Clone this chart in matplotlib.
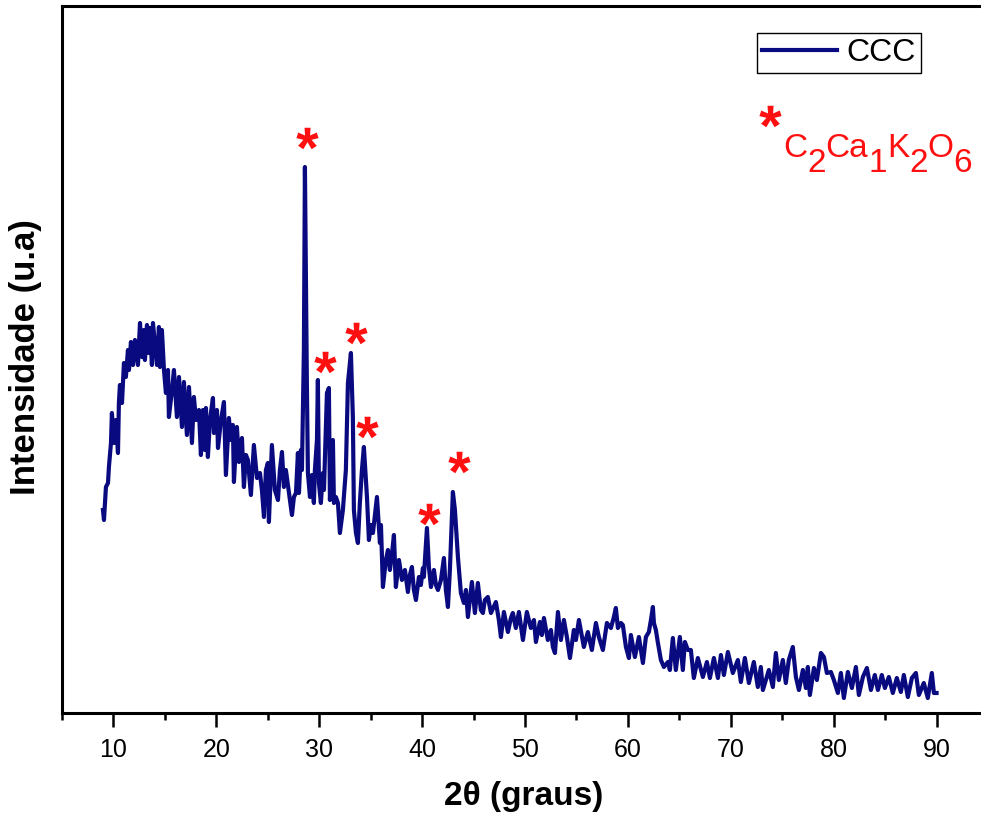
import numpy as np
import matplotlib
matplotlib.use("Agg")
import matplotlib.pyplot as plt
from matplotlib.textpath import TextPath
from matplotlib.font_manager import FontProperties
from matplotlib.path import Path

plt.rcParams['font.family'] = ['Liberation Sans', 'DejaVu Sans']

# ---------------- data (2theta in degrees, intensity in a.u.) ----------------
two_theta = [
    8.98, 9.08, 9.27, 9.47, 9.56, 9.76, 9.85, 10.05, 10.24, 10.44, 10.53, 10.63, 10.83,
    11.02, 11.21, 11.41, 11.51, 11.70, 11.90, 12.09, 12.38, 12.58, 12.77, 12.96, 13.06,
    13.26, 13.35, 13.55, 13.74, 13.84, 14.03, 14.23, 14.42, 14.52, 14.71, 14.91, 15.10,
    15.30, 15.39, 15.69, 15.88, 16.17, 16.37, 16.66, 16.85, 17.14, 17.34, 17.63, 17.82,
    18.02, 18.31, 18.50, 18.70, 18.89,
    18.99, 19.18, 19.38, 19.67, 19.77, 20.06, 20.16, 20.45, 20.74, 20.93, 21.22, 21.42,
    21.61, 21.71, 22.00, 22.20, 22.49, 22.68, 22.88, 23.07, 23.36, 23.65, 23.95, 24.24,
    24.43, 24.63, 24.82, 25.01, 25.11, 25.40, 25.69, 25.99, 26.18, 26.38, 26.57, 26.76,
    26.96, 27.35, 27.54, 27.74, 27.93,
    28.03, 28.22, 28.32, 28.51, 28.61, 28.80, 28.90, 29.10, 29.29, 29.48, 29.58, 29.78,
    29.87, 29.97, 30.16, 30.36, 30.46, 30.75, 30.94, 31.04, 31.33, 31.43, 31.62, 31.82,
    32.01, 32.30, 32.59, 32.79, 33.08, 33.27, 33.37, 33.57, 33.76, 33.95, 34.15, 34.34,
    34.64, 34.83, 35.02, 35.22, 35.61, 35.90,
    36.00, 36.19, 36.48, 36.68, 36.87, 37.06, 37.26, 37.45, 37.75, 38.04, 38.33, 38.62,
    38.81, 39.01, 39.20, 39.40, 39.69, 39.88, 40.08, 40.17, 40.47, 40.66, 40.86, 41.15,
    41.34, 41.54, 41.83, 42.12, 42.31, 42.51, 42.70, 42.90, 42.99, 43.19, 43.38, 43.48,
    43.77, 44.06, 44.26, 44.45, 44.84, 45.13, 45.42, 45.71, 45.91, 46.10, 46.39,
    46.69, 47.17, 47.46, 47.66, 47.95, 48.34, 48.63, 48.82, 49.11, 49.41, 49.80, 50.18,
    50.57, 50.87, 51.06, 51.45, 51.64, 51.84, 52.22, 52.52, 52.71, 52.91, 53.20, 53.49,
    53.78, 54.07, 54.37, 54.75, 54.95, 55.24, 55.72, 56.11, 56.50, 56.89, 57.18, 57.57,
    57.96, 58.35, 58.64, 58.83, 59.03, 59.32, 59.51, 59.81, 60.10,
    60.29, 60.68, 61.07, 61.46, 61.75, 62.04, 62.24, 62.43, 62.53, 62.72, 62.92, 63.21,
    63.50, 63.89, 64.08, 64.37, 64.66, 65.05, 65.34, 65.54, 65.83, 66.12, 66.41, 66.80,
    67.29, 67.68, 67.97, 68.36, 68.75, 69.04, 69.33, 69.72, 70.20, 70.69, 70.98, 71.37,
    71.76, 72.24, 72.63, 72.92,
    73.12, 73.41, 73.70, 74.09, 74.38, 74.67, 75.06, 75.35, 75.64, 76.03, 76.33, 76.62,
    77.01, 77.30, 77.49, 77.69, 78.08, 78.37, 78.76, 79.05, 79.34, 79.73, 80.02, 80.41,
    80.70, 80.99, 81.38, 81.77, 82.16, 82.45, 82.84, 83.23, 83.62, 84.00, 84.30, 84.68,
    84.98, 85.36, 85.75, 86.14, 86.53, 86.82, 87.21, 87.60, 87.99, 88.28, 88.76, 89.15,
    89.54, 89.74, 90.00,
]

intensity = [
    203, 193, 226, 230, 246, 270, 300, 270, 293, 260, 310, 328, 310,
    350, 336, 363, 343, 371, 348, 373, 348, 390, 356, 383, 353,
    388, 360, 385, 348, 390, 370, 348, 386, 346, 383, 343, 320,
    343, 296, 323, 343, 296, 336, 286, 331, 278, 326, 270, 316,
    293, 303, 258, 303, 263,
    305, 256, 293, 315, 280, 303, 265, 293, 311, 238, 295, 273,
    288, 231, 286, 251, 275, 226, 258, 253, 218, 268, 235, 240,
    223, 196, 243, 250, 191, 268, 223, 213, 243, 261, 226, 243,
    228, 198, 216, 220, 260,
    220, 263, 243, 363, 546, 330, 240, 216, 238, 210, 243, 273,
    333, 230, 210, 240, 223, 320, 325, 213, 273, 210, 216, 210,
    180, 203, 243, 330, 360, 296, 203, 180, 170, 210, 243, 266,
    216, 173, 188, 180, 216, 170,
    188, 126, 153, 163, 143, 158, 178, 126, 153, 133, 143, 121,
    138, 146, 123, 113, 136, 128, 145, 136, 185, 146, 126, 143,
    128, 123, 133, 155, 123, 106, 143, 198, 221, 203, 173, 156,
    120, 110, 123, 96, 131, 100, 130, 103, 100, 113, 116,
    100, 111, 93, 76, 101, 81, 95, 100, 85, 101, 73, 101,
    85, 93, 71, 91, 78, 95, 73, 83, 66, 60, 101, 73,
    93, 76, 55, 83, 73, 93, 66, 81, 63, 90, 76, 63,
    90, 85, 96, 105, 85, 90, 88, 66, 55,
    78, 56, 76, 50, 76, 81, 93, 106, 90, 83, 70, 53,
    46, 51, 43, 75, 43, 76, 43, 71, 63, 63, 35, 55,
    36, 51, 35, 55, 35, 58, 38, 61, 40, 53, 31, 55,
    30, 51, 26, 46,
    23, 33, 43, 26, 60, 33, 53, 30, 53, 66, 36, 23,
    43, 25, 46, 18, 45, 33, 60, 56, 40, 41, 33, 20,
    40, 15, 41, 25, 46, 18, 36, 45, 23, 38, 23, 38,
    25, 36, 20, 35, 21, 38, 16, 35, 40, 18, 30, 15,
    40, 20, 20,
]

# peaks attributed to C2Ca1K2O6 (star annotations)
star_theta = [28.80, 30.60, 33.57, 34.68, 40.71, 43.63]
star_int = [575, 351, 380, 286, 199, 251]

series_label = "CCC"
phase_label = ["C", "2", "Ca", "1", "K", "2", "O", "6"]
x_ticks = [10, 20, 30, 40, 50, 60, 70, 80, 90]

# ---------------- figure ----------------
W, H = 981, 816
fig = plt.figure(figsize=(W / 100, H / 100), dpi=100)
ax = fig.add_axes([62 / W, (H - 713) / H, (988 - 62) / W, (713 - 6) / H])

navy = '#0a0a80'
ax.plot(two_theta, intensity, color=navy, lw=3.0, solid_joinstyle='round',
        label=series_label, zorder=3)

# asterisk marker built from the glyph (closing vertices moved to the centre)
tp = TextPath((0, 0), '*', prop=FontProperties(family='Liberation Sans', weight='bold'), size=1)
codes = tp.codes
v = tp.vertices.copy()
real = codes != Path.CLOSEPOLY
c = (v[real].min(axis=0) + v[real].max(axis=0)) / 2
v = v - c
v[~real] = 0.0
star = Path(v, codes)
red = '#ff1010'
ax.plot(star_theta, star_int, ls='none', marker=star, ms=16, mfc=red,
        mec='none', mew=0, zorder=4)

ax.set_xlim(5, 95)
ax.set_ylim(0, 707)
ax.set_xticks(x_ticks)
ax.set_xticks(np.arange(5, 96, 10), minor=True)
ax.tick_params(axis='x', which='major', direction='out', length=10, width=1.8,
               labelsize=18, pad=8, top=False)
ax.tick_params(axis='x', which='minor', direction='out', length=5, width=1.8, top=False)
ax.tick_params(axis='y', which='both', left=False, right=False, labelleft=False)
for s in ax.spines.values():
    s.set_linewidth(2.2)
    s.set_color('black')

fig.text(524 / W, 1 - 797 / H, "2θ (graus)", fontsize=24, fontweight='bold',
         ha='center', va='center')
fig.text(26 / W, 1 - 357 / H, "Intensidade (u.a)", fontsize=25, fontweight='bold',
         rotation=90, ha='center', va='center')

leg = ax.legend(loc='upper left', bbox_to_anchor=(757 / W, 1 - 33 / H),
                bbox_transform=fig.transFigure, fontsize=23, frameon=True,
                fancybox=False, framealpha=1, edgecolor='black', borderpad=0.15,
                handlelength=2.35, handletextpad=0.3, borderaxespad=0)
leg.get_frame().set_linewidth(1.0)

# legend star + phase formula with full-size, lowered subscripts
ax.plot([73.85], [597], ls='none', marker=star, ms=16, mfc=red, mec='none', mew=0,
        zorder=4, clip_on=False)
fs = 24
sub_dy = 10.5
prev = fig.text(783 / W, 1 - 157 / H, phase_label[0], color=red, fontsize=fs,
                va='baseline', ha='left')
lowered = False
for i, piece in enumerate(phase_label[1:], start=1):
    is_sub = piece.isdigit()
    if is_sub and not lowered:
        dy = -sub_dy
    elif (not is_sub) and lowered:
        dy = sub_dy
    else:
        dy = 0
    prev = ax.annotate(piece, xy=(1, 0), xycoords=prev, xytext=(0, dy),
                       textcoords='offset points', color=red, fontsize=fs,
                       ha='left', va='bottom')
    lowered = is_sub

fig.savefig('out.png', dpi=100)
